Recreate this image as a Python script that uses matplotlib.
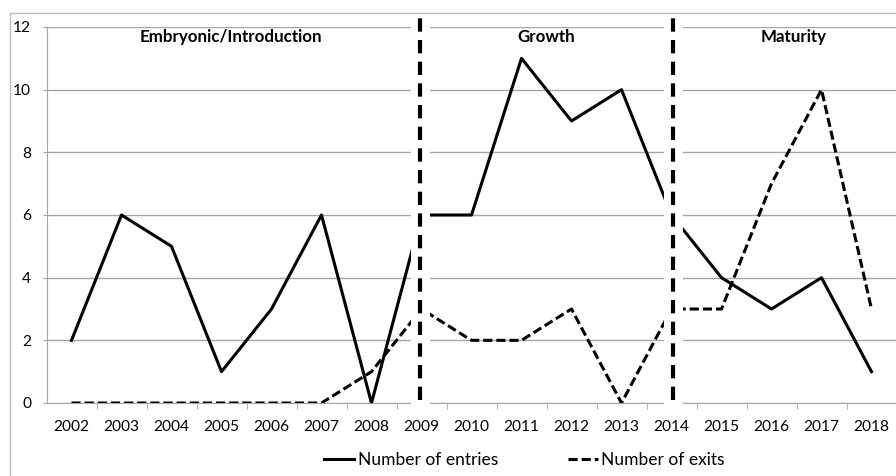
import matplotlib
matplotlib.use("Agg")
import matplotlib.pyplot as plt
from matplotlib.patches import Rectangle

years = ["2002", "2003", "2004", "2005", "2006", "2007", "2008", "2009", "2010",
         "2011", "2012", "2013", "2014", "2015", "2016", "2017", "2018"]
entries = [2, 6, 5, 1, 3, 6, 0, 6, 6, 11, 9, 10, 6, 4, 3, 4, 1]
exits = [0, 0, 0, 0, 0, 0, 1, 3, 2, 2, 3, 0, 3, 3, 7, 10, 3]
phases = ["Embryonic/Introduction", "Growth", "Maturity"]

plt.rcParams['font.family'] = ['Lato', 'DejaVu Sans']
GRID = '#a6a6a6'

fig = plt.figure(figsize=(8.96, 4.76), dpi=100)
ax = fig.add_axes([46.5 / 896, 73 / 476, 850 / 896, 376 / 476])

x = list(range(len(years)))
ax.plot(x, entries, color='black', lw=2.2, label='Number of entries', zorder=3)
ax.plot(x, exits, color='black', lw=2.2, dashes=(3, 1.3), label='Number of exits', zorder=3)

ax.set_xlim(-0.5, len(years) - 0.5)
ax.set_ylim(0, 12)
ax.set_yticks(range(0, 13, 2))
ax.set_xticks(x)
ax.set_xticklabels(years)
ax.set_xticks([i + 0.5 for i in x[:-1]], minor=True)
ax.tick_params(axis='x', which='major', length=0, pad=12.5, labelsize=11.2)
ax.tick_params(axis='x', which='minor', length=4, color=GRID, direction='out')
ax.tick_params(axis='y', length=3, color=GRID, pad=8, labelsize=11.2)
ax.yaxis.grid(True, color=GRID, lw=1)
ax.set_axisbelow(True)
for side in ['top', 'right']:
    ax.spines[side].set_visible(False)
for side in ['left', 'bottom']:
    ax.spines[side].set_color(GRID)

# white breaks with heavy dashed separators between the phases
for lo, hi, xs in [(6.79, 7.17, 6.96), (11.84, 12.23, 12.03)]:
    ax.add_patch(Rectangle((lo, -0.1), hi - lo, 12.3, facecolor='white',
                           edgecolor='none', zorder=4, clip_on=False))
    ax.plot([xs, xs], [0.1, 12.45], color='black', lw=3, dashes=(3.2, 2.0),
            solid_capstyle='butt', dash_capstyle='butt', clip_on=False, zorder=5)

for name, px in zip(phases, [3.19, 9.5, 14.45]):
    ax.text(px, 11.68, name, ha='center', va='center', fontsize=12.2,
            fontweight='bold')

fig.legend(loc='center', bbox_to_anchor=(524.5 / 896, 16 / 476), ncol=2,
           frameon=False, fontsize=12.5, handlelength=1.75, handletextpad=0.2,
           columnspacing=4.0)

fig.add_artist(Rectangle((10 / 896, -0.1), 1.0, (476 - 13) / 476 + 0.1,
                         transform=fig.transFigure, fill=False,
                         edgecolor='#bfbfbf', lw=1))

fig.savefig('out.png', dpi=100)
